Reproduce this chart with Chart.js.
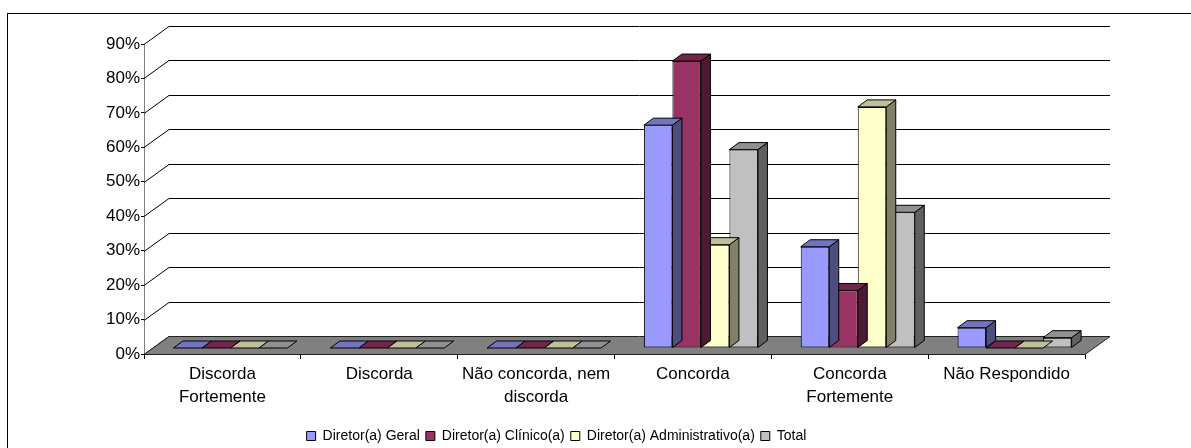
<!DOCTYPE html>
<html>
<head>
<meta charset="utf-8">
<script src="https://cdn.jsdelivr.net/npm/chart.js@4.4.1/dist/chart.umd.min.js"></script>
<style>
  html, body { margin: 0; padding: 0; background: #fff; overflow: hidden; }
  canvas { display: block; }
</style>
</head>
<body>
<canvas id="chart" width="1191" height="460"></canvas>
<script>
const categories = [
    ['Discorda', 'Fortemente'],
    'Discorda',
    ['Não concorda, nem', 'discorda'],
    'Concorda',
    ['Concorda', 'Fortemente'],
    'Não Respondido'
];
const seriesNames = ['Diretor(a) Geral', 'Diretor(a) Clínico(a)', 'Diretor(a) Administrativo(a)', 'Total'];
const geral          = [0, 0, 0, 64.7, 29.4, 5.9];
const clinico        = [0, 0, 0, 83.3, 16.7, 0];
const administrativo = [0, 0, 0, 30.0, 70.0, 0];
const total          = [0, 0, 0, 57.6, 39.4, 3.0];
const yMax = 90, yStep = 10;

// front / top / side shades per series
const fronts = ['#9999FF', '#993366', '#FFFFCC', '#C0C0C0'];
const tops   = ['#7373BF', '#73264D', '#BFBF99', '#909090'];
const sides  = ['#4D4D80', '#4D1A33', '#808066', '#606060'];

const WALL = { dx: 25, dy: -18 };  // back wall offset from the front axes
const ROW  = { dx: 8,  dy: -6 };   // the bar row sits a third into the floor
const BOX  = { dx: 9.5, dy: -7 };  // depth of each bar

Chart.defaults.font.family = "'Liberation Sans', Arial, sans-serif";

const depth = {
    id: 'depth',
    beforeDraw(chart) {
        const ctx = chart.ctx;
        ctx.save();
        ctx.strokeStyle = '#000';
        ctx.lineWidth = 1;
        ctx.strokeRect(7.5, 13.5, chart.width + 20, chart.height + 20);
        ctx.restore();
    },
    beforeDatasetsDraw(chart) {
        const { ctx, scales: { x, y } } = chart;
        const left = x.left, right = x.right;
        ctx.save();
        ctx.strokeStyle = '#000';
        ctx.lineWidth = 1;
        y.ticks.forEach(t => {
            const py = Math.round(y.getPixelForValue(t.value)) + 0.5;
            ctx.beginPath();
            ctx.moveTo(left, py);
            ctx.lineTo(left + WALL.dx, py + WALL.dy);
            if (t.value > 0) ctx.lineTo(right + WALL.dx, py + WALL.dy);
            ctx.stroke();
        });
        const y0 = Math.round(y.getPixelForValue(0)) + 0.5;
        ctx.beginPath();
        ctx.moveTo(left, y0);
        ctx.lineTo(left + WALL.dx, y0 + WALL.dy);
        ctx.lineTo(right + WALL.dx, y0 + WALL.dy);
        ctx.lineTo(right, y0);
        ctx.closePath();
        ctx.fillStyle = '#808080';
        ctx.fill();
        ctx.strokeStyle = '#222';
        ctx.stroke();
        ctx.restore();

        ctx.save();
        ctx.translate(ROW.dx, ROW.dy);
    },
    afterDatasetDraw(chart, args) {
        const ctx = chart.ctx;
        const i = args.index;
        args.meta.data.forEach(bar => {
            const { x, y, base, width } = bar.getProps(['x', 'y', 'base', 'width'], true);
            const l = x - width / 2, r = x + width / 2;
            ctx.save();
            ctx.strokeStyle = '#000';
            ctx.lineWidth = 1;
            ctx.lineJoin = 'round';
            if (base - y > 0.5) {
                ctx.beginPath();
                ctx.moveTo(r, y);
                ctx.lineTo(r + BOX.dx, y + BOX.dy);
                ctx.lineTo(r + BOX.dx, base + BOX.dy);
                ctx.lineTo(r, base);
                ctx.closePath();
                ctx.fillStyle = sides[i];
                ctx.fill();
                ctx.stroke();
            }
            ctx.beginPath();
            ctx.moveTo(l, y);
            ctx.lineTo(l + BOX.dx, y + BOX.dy);
            ctx.lineTo(r + BOX.dx, y + BOX.dy);
            ctx.lineTo(r, y);
            ctx.closePath();
            ctx.fillStyle = tops[i];
            ctx.fill();
            ctx.stroke();
            ctx.restore();
        });
    },
    afterDatasetsDraw(chart) {
        chart.ctx.restore();
    }
};

const values = [geral, clinico, administrativo, total];

new Chart(document.getElementById('chart'), {
    type: 'bar',
    data: {
        labels: categories,
        datasets: seriesNames.map((name, i) => ({
            label: name,
            data: values[i],
            backgroundColor: fronts[i],
            borderColor: '#000',
            borderWidth: 1,
            borderSkipped: false,
            clip: false,
        })),
    },
    options: {
        responsive: false,
        animation: false,
        layout: { padding: { left: 28, right: 106, top: 44, bottom: 7 } },
        datasets: { bar: { categoryPercentage: 0.727, barPercentage: 1 } },
        plugins: {
            tooltip: { enabled: false },
            legend: {
                position: 'bottom',
                labels: { boxWidth: 9, boxHeight: 9, padding: 6, color: '#000', font: { size: 14 } },
            },
        },
        scales: {
            x: {
                grid: { drawOnChartArea: false, tickLength: 5, color: '#000', offset: true },
                border: { color: '#000' },
                ticks: { color: '#000', font: { size: 17, lineHeight: 1.35 }, padding: 4, maxRotation: 0, autoSkip: false },
                afterFit: s => { s.height = 69; },
            },
            y: {
                min: 0,
                max: yMax,
                ticks: { stepSize: yStep, color: '#000', font: { size: 17 }, padding: 1, callback: v => v + '%' },
                grid: { drawOnChartArea: false, tickLength: 3, color: '#000' },
                border: { color: '#808080' },
                afterFit: s => { s.width = 116; },
            },
        },
    },
    plugins: [depth],
});
</script>
</body>
</html>
